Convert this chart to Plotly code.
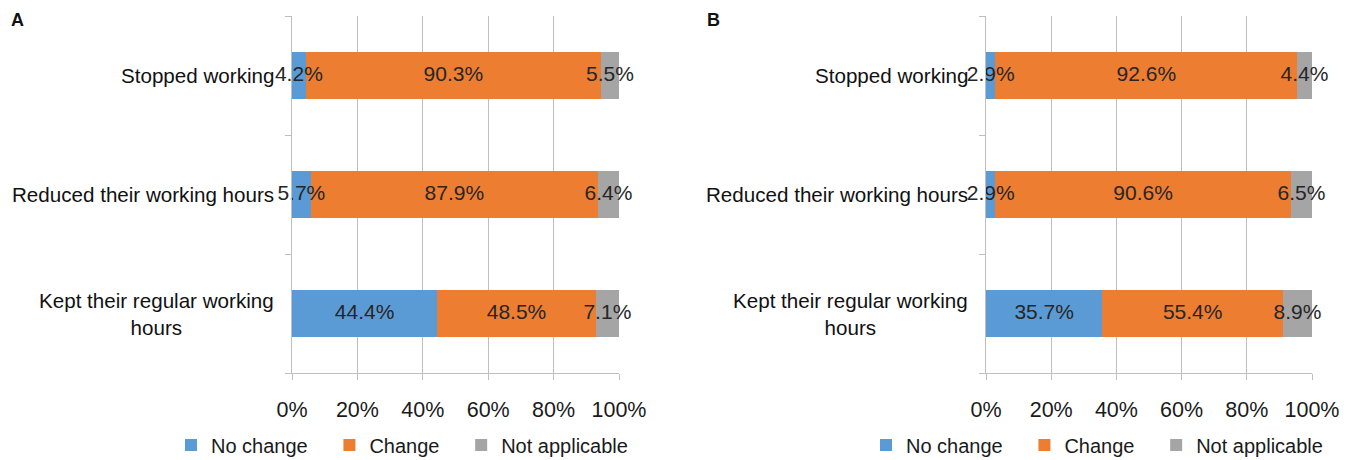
import plotly.graph_objects as go

# Categories listed bottom-to-top as they appear on the y axis
categories = ["Kept their regular working hours", "Reduced their working hours", "Stopped working"]
category_labels = ["Kept their regular working<br>hours", "Reduced their working hours", "Stopped working"]
tick_values = [0, 20, 40, 60, 80, 100]
tick_labels = ["0%", "20%", "40%", "60%", "80%", "100%"]

# Panel A shares (%)
a_no_change = [44.4, 5.7, 4.2]
a_change = [48.5, 87.9, 90.3]
a_not_applicable = [7.1, 6.4, 5.5]

# Panel B shares (%)
b_no_change = [35.7, 2.9, 2.9]
b_change = [55.4, 90.6, 92.6]
b_not_applicable = [8.9, 6.5, 4.4]

series_names = ["No change", "Change", "Not applicable"]
# trailing no-break spaces widen the gap between legend entries
legend_names = ["No change\u00a0\u00a0\u00a0", "Change\u00a0\u00a0\u00a0", "Not applicable"]
colors = ["#5B9BD5", "#ED7D31", "#A5A5A5"]
FONT = "Liberation Sans, Arial, sans-serif"
GRID = "#BFBFBF"

panels = [
    ("x", "y", "legend", [a_no_change, a_change, a_not_applicable]),
    ("x2", "y2", "legend2", [b_no_change, b_change, b_not_applicable]),
]

fig = go.Figure()
for xa, ya, lg, values in panels:
    for name, color, vals in zip(legend_names, colors, values):
        fig.add_trace(go.Bar(
            y=categories, x=vals, name=name, orientation="h",
            xaxis=xa, yaxis=ya, legend=lg,
            marker=dict(color=color, line=dict(width=0)),
            hoverinfo="skip",
        ))
    # value labels, centred on each stacked segment and drawn above all bars
    lab_x, lab_y, lab_t = [], [], []
    for i, cat in enumerate(categories):
        start = 0.0
        for vals in values:
            v = vals[i]
            lab_x.append(start + v / 2)
            lab_y.append(cat)
            lab_t.append(f"{v:.1f}%")
            start += v
    fig.add_trace(go.Scatter(
        x=lab_x, y=lab_y, text=lab_t, mode="text", textposition="middle center",
        textfont=dict(family=FONT, size=21, color="#262626"),
        xaxis=xa, yaxis=ya, showlegend=False, cliponaxis=False, hoverinfo="skip",
    ))

y_dom = [87 / 460, 444 / 460]
x_doms = [[292 / 1355, 619 / 1355], [986 / 1355, 1312 / 1355]]

xcommon = dict(range=[0, 100], tickmode="array", tickvals=tick_values, ticktext=tick_labels,
               showgrid=True, gridcolor=GRID, gridwidth=1.3,
               showline=True, linecolor=GRID, linewidth=1.3,
               ticks="outside", ticklen=6, tickcolor=GRID, tickwidth=1.3,
               ticklabelstandoff=11, zeroline=False, automargin=False,
               tickfont=dict(family=FONT, size=21.5, color="#1a1a1a"))
ycommon = dict(type="category", categoryorder="array", categoryarray=categories,
               range=[-0.5, 2.5], showgrid=False, showline=True, linecolor=GRID,
               linewidth=1.3, ticks="outside", tickson="boundaries", ticklen=6,
               tickcolor=GRID, tickwidth=1.3, showticklabels=False, domain=y_dom,
               automargin=False)

legend_common = dict(orientation="h", traceorder="normal", xanchor="left", yanchor="middle",
                     y=15 / 460, font=dict(family=FONT, size=20, color="#1a1a1a"),
                     bgcolor="rgba(0,0,0,0)")

fig.update_layout(
    width=1355, height=460, margin=dict(l=0, r=0, t=0, b=0, autoexpand=False),
    paper_bgcolor="white", plot_bgcolor="white",
    barmode="stack", bargap=0.6,
    xaxis=dict(domain=x_doms[0], anchor="y", **xcommon),
    xaxis2=dict(domain=x_doms[1], anchor="y2", **xcommon),
    yaxis=dict(anchor="x", **ycommon),
    yaxis2=dict(anchor="x2", **ycommon),
    legend=dict(x=171 / 1355, **legend_common),
    legend2=dict(x=866 / 1355, **legend_common),
)

# Category labels beside each y axis (centered lines, right-aligned block)
for xr, yr in (("x domain", "y"), ("x2 domain", "y2")):
    for cat, lab in zip(categories, category_labels):
        fig.add_annotation(x=0, y=cat, xref=xr, yref=yr, text=lab, showarrow=False,
                           xanchor="right", yanchor="middle", align="center", xshift=-16,
                           font=dict(family=FONT, size=20.6, color="#111111"))

# Panel letters
for letter, px in (("A", 17), ("B", 713)):
    fig.add_annotation(x=px / 1355, y=1 - 20 / 460, xref="paper", yref="paper", text=f"<b>{letter}</b>",
                       showarrow=False, xanchor="center", yanchor="middle",
                       font=dict(family=FONT, size=18, color="#111111"))

fig.write_html("out.html")
